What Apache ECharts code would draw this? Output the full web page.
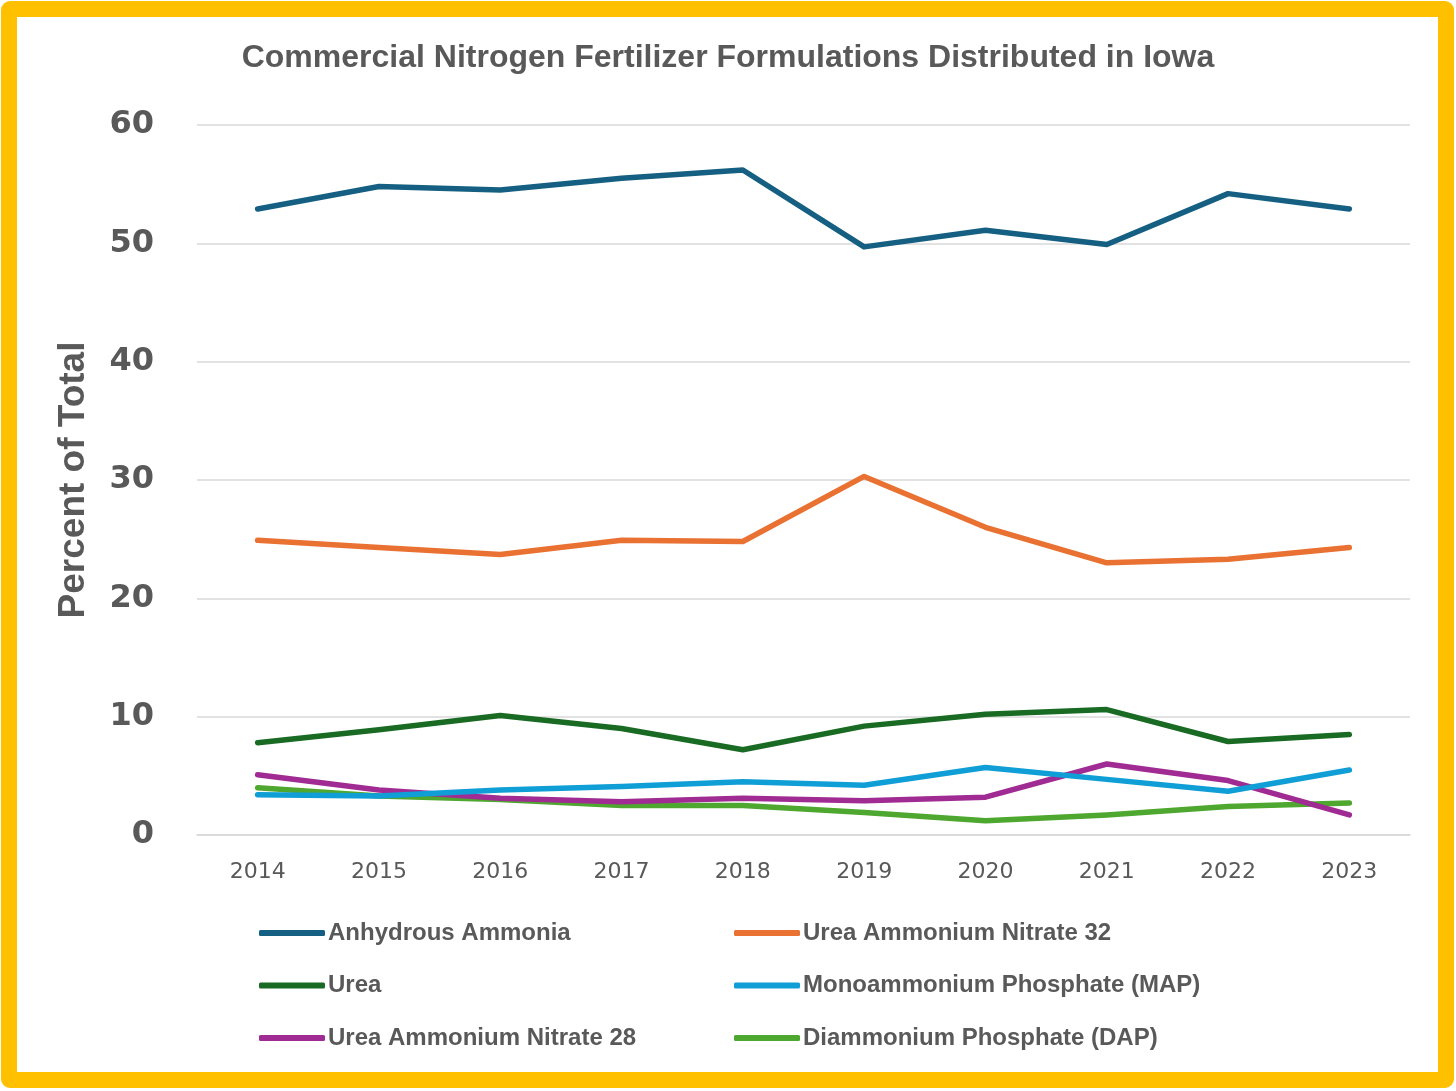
<!DOCTYPE html>
<html>
<head>
    <meta charset="utf-8">
    <title>Commercial Nitrogen Fertilizer Formulations Distributed in Iowa</title>
    <script src="https://cdn.jsdelivr.net/npm/echarts@6/dist/echarts.min.js"></script>
    <style>
        html, body {
            margin: 0;
            padding: 0;
            background: #fff;
        }
        #frame {
            position: absolute;
            left: 1px;
            top: 1px;
            width: 1453px;
            height: 1087px;
            box-sizing: border-box;
            border: 16px solid #FFC000;
            border-radius: 9px;
            pointer-events: none;
            z-index: 2;
        }
        #chart-container {
            position: absolute;
            left: 0;
            top: 0;
            width: 1456px;
            height: 1091px;
        }
    </style>
</head>
<body>
<div id="chart-container"></div>
<div id="frame"></div>

<script>
    // data
    var years = ['2014', '2015', '2016', '2017', '2018', '2019', '2020', '2021', '2022', '2023'];
    var yTicks = [0, 10, 20, 30, 40, 50, 60];

    var anhydrousAmmonia = [52.9, 54.8, 54.5, 55.5, 56.2, 49.7, 51.1, 49.9, 54.2, 52.9];
    var uan32 = [24.9, 24.3, 23.7, 24.9, 24.8, 30.3, 26.0, 23.0, 23.3, 24.3];
    var urea = [7.8, 8.9, 10.1, 9.0, 7.2, 9.2, 10.2, 10.6, 7.9, 8.5];
    var map = [3.4, 3.3, 3.8, 4.1, 4.5, 4.2, 5.7, 4.7, 3.7, 5.5];
    var uan28 = [5.1, 3.8, 3.1, 2.8, 3.1, 2.9, 3.2, 6.0, 4.6, 1.7];
    var dap = [4.0, 3.3, 3.0, 2.5, 2.5, 1.9, 1.2, 1.7, 2.4, 2.7];

    var seriesNames = [
        'Anhydrous Ammonia', 'Urea Ammonium Nitrate 32', 'Urea',
        'Monoammonium Phosphate (MAP)', 'Urea Ammonium Nitrate 28', 'Diammonium Phosphate (DAP)'
    ];
    var seriesData = [anhydrousAmmonia, uan32, urea, map, uan28, dap];
    var colors = ['#156082', '#E97132', '#196B24', '#0F9ED5', '#A02B93', '#4EA72E'];

    var narrow = '"Liberation Sans Narrow", "Arial Narrow", "Liberation Sans", sans-serif';
    var grey = '#595959';

    var myChart = echarts.init(document.getElementById('chart-container'));

    var legendBase = {
        orient: 'vertical',
        top: 921,
        padding: 0,
        itemGap: 28.5,
        itemWidth: 66,
        itemHeight: 6,
        icon: 'roundRect',
        textStyle: {
            fontFamily: narrow,
            fontWeight: 'bold',
            fontSize: 24,
            lineHeight: 24,
            color: grey,
            padding: [0, 0, 0, -2]
        }
    };

    var option = {
        animation: false,
        color: colors,
        title: {
            text: 'Commercial Nitrogen Fertilizer Formulations Distributed in Iowa',
            left: 'center',
            top: 37,
            textStyle: {
                fontFamily: narrow,
                fontWeight: 'bold',
                fontSize: 32,
                color: grey
            }
        },
        legend: [
            Object.assign({}, legendBase, {
                left: 259,
                data: [seriesNames[0], seriesNames[2], seriesNames[4]]
            }),
            Object.assign({}, legendBase, {
                left: 734,
                data: [seriesNames[1], seriesNames[3], seriesNames[5]]
            })
        ],
        grid: {
            left: 197,
            right: 46,
            top: 125,
            bottom: 256
        },
        xAxis: {
            type: 'category',
            data: years,
            boundaryGap: true,
            axisLine: {
                lineStyle: { color: '#D9D9D9', width: 1.5 }
            },
            axisTick: { show: false },
            axisLabel: {
                fontFamily: '"DejaVu Sans", sans-serif',
                fontSize: 22,
                color: grey,
                margin: 26
            }
        },
        yAxis: {
            type: 'value',
            min: yTicks[0],
            max: yTicks[yTicks.length - 1],
            interval: 10,
            name: 'Percent of Total',
            nameLocation: 'middle',
            nameGap: 105,
            nameRotate: 90,
            nameTextStyle: {
                fontFamily: narrow,
                fontWeight: 'bold',
                fontSize: 37,
                color: grey
            },
            axisLine: { show: false },
            axisTick: { show: false },
            axisLabel: {
                fontFamily: '"DejaVu Sans", sans-serif',
                fontWeight: 'bold',
                fontSize: 32,
                color: grey,
                margin: 43
            },
            splitLine: {
                lineStyle: { color: '#D9D9D9', width: 1.5 }
            }
        },
        series: seriesNames.map(function (name, i) {
            return {
                name: name,
                type: 'line',
                data: seriesData[i],
                symbol: 'none',
                smooth: false,
                lineStyle: { width: 5.5, cap: 'round', join: 'round' },
                z: 10 - i
            };
        })
    };

    myChart.setOption(option);

    window.addEventListener('resize', function () {
        myChart.resize();
    });
</script>
</body>
</html>
